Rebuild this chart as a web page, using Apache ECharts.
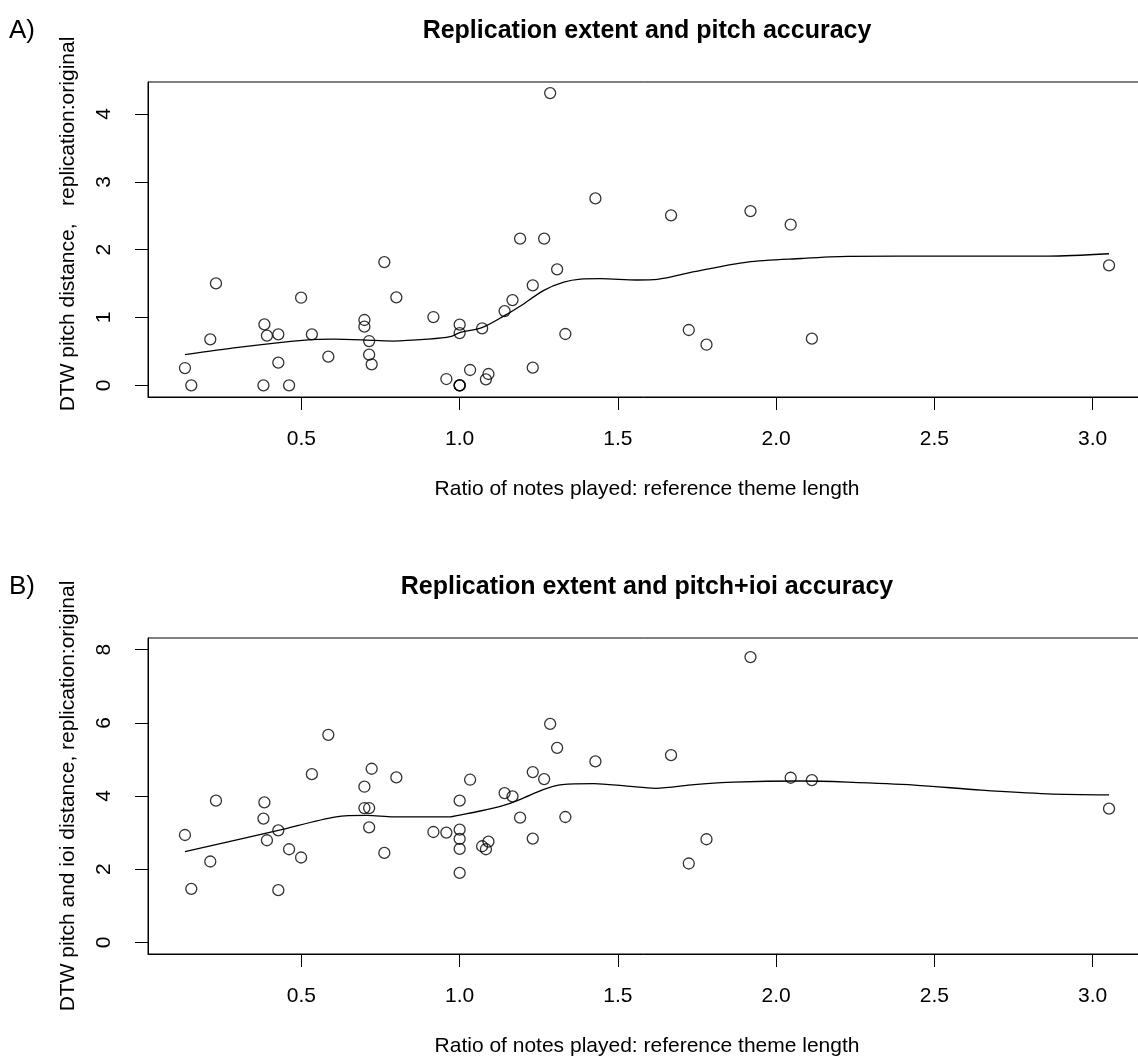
<!DOCTYPE html>
<html>
<head>
<meta charset="utf-8">
<script src="https://cdn.jsdelivr.net/npm/echarts@6/dist/echarts.min.js"></script>
<style>
  html, body { margin: 0; padding: 0; background: #fff; }
  #chart { width: 1138px; height: 1059px; }
</style>
</head>
<body>
<div id="chart"></div>
<script>
// ratio of notes played : reference theme length (shared by both panels)
const ratio = [0.132, 0.152, 0.212, 0.230, 0.380, 0.383, 0.391, 0.427, 0.427, 0.461,
  0.499, 0.533, 0.585, 0.699, 0.699, 0.714, 0.714, 0.722, 0.762, 0.800,
  0.917, 0.958, 1.0, 1.0, 1.0, 1.0, 1.0, 1.033, 1.071, 1.083,
  1.091, 1.142, 1.167, 1.191, 1.231, 1.231, 1.267, 1.286, 1.308, 1.334,
  1.429, 1.668, 1.724, 1.780, 1.919, 2.046, 2.113, 3.052];

// A) DTW pitch distance
const pitchDist = [0.255, 0.0, 0.678, 1.503, 0.0, 0.899, 0.732, 0.752, 0.334, 0.0,
  1.292, 0.752, 0.423, 0.963, 0.865, 0.653, 0.452, 0.309, 1.817, 1.297,
  1.007, 0.093, 0.894, 0.771, 0.0, 0.0, 0.0, 0.226, 0.840, 0.088,
  0.167, 1.095, 1.257, 2.162, 1.474, 0.261, 2.162, 4.308, 1.710, 0.757,
  2.756, 2.506, 0.816, 0.599, 2.569, 2.368, 0.688, 1.769];

// B) DTW pitch + ioi distance
const pitchIoiDist = [2.934, 1.462, 2.209, 3.872, 3.382, 3.826, 2.790, 3.062, 1.426, 2.544,
  2.318, 4.598, 5.672, 4.254, 3.671, 3.671, 3.144, 4.745, 2.444, 4.508,
  3.016, 3.000, 3.872, 3.081, 2.826, 2.553, 1.898, 4.445, 2.626, 2.544,
  2.754, 4.080, 3.990, 3.408, 4.653, 2.835, 4.463, 5.971, 5.317, 3.426,
  4.945, 5.117, 2.154, 2.817, 7.799, 4.499, 4.435, 3.654];

// loess smoothers
const smoothAx = [0.132, 0.30, 0.512, 0.60, 0.728, 0.79, 0.90, 0.97, 1.0, 1.07, 1.139, 1.192,
  1.266, 1.329, 1.382, 1.445, 1.56, 1.625, 1.741, 1.909, 2.08, 2.226, 2.54, 2.86, 3.052];
const smoothAy = [0.452, 0.56, 0.665, 0.68, 0.663, 0.653, 0.68, 0.717, 0.776, 0.85, 1.02, 1.17,
  1.40, 1.52, 1.565, 1.572, 1.553, 1.562, 1.675, 1.817, 1.87, 1.90, 1.906, 1.906, 1.94];

const smoothBx = [0.132, 0.427, 0.61, 0.707, 0.791, 0.97, 1.0, 1.065, 1.139, 1.192, 1.266, 1.324,
  1.424, 1.529, 1.619, 1.741, 1.867, 2.078, 2.226, 2.437, 2.648, 2.859, 3.052];
const smoothBy = [2.48, 3.06, 3.43, 3.47, 3.43, 3.43, 3.48, 3.59, 3.745, 3.91, 4.18, 4.31,
  4.34, 4.27, 4.21, 4.31, 4.38, 4.41, 4.38, 4.30, 4.16, 4.06, 4.03];

const xTicks = [0.5, 1.0, 1.5, 2.0, 2.5, 3.0];
const yTicksA = [0, 1, 2, 3, 4];
const yTicksB = [0, 2, 4, 6, 8];

const FONT = 'Liberation Sans, Arial, Helvetica, sans-serif';
const xLabel = 'Ratio of notes played: reference theme length';
const yLabelA = 'DTW pitch distance,   replication:original';
const yLabelB = 'DTW pitch and ioi distance, replication:original';

function zip(xs, ys) {
  return xs.map((x, i) => [x, ys[i]]);
}

function xAxisOpt(gridIndex) {
  return {
    type: 'value', gridIndex: gridIndex,
    min: 0.0152, max: 3.1688,
    splitLine: { show: false },
    axisLine: { show: true, onZero: false, lineStyle: { color: '#000', width: 1 } },
    axisTick: { show: true, inside: false, length: 13, customValues: xTicks,
      lineStyle: { color: '#000', width: 1 } },
    axisLabel: { customValues: xTicks, margin: 32, color: '#000', fontSize: 21, fontFamily: FONT,
      formatter: v => v.toFixed(1) },
    name: xLabel, nameLocation: 'middle', nameGap: 82,
    nameTextStyle: { color: '#000', fontSize: 21, fontFamily: FONT }
  };
}

function yAxisOpt(gridIndex, min, max, ticks, name) {
  return {
    type: 'value', gridIndex: gridIndex,
    min: min, max: max,
    splitLine: { show: false },
    axisLine: { show: true, onZero: false, lineStyle: { color: '#000', width: 1 } },
    axisTick: { show: true, inside: false, length: 13, customValues: ticks,
      lineStyle: { color: '#000', width: 1 } },
    axisLabel: { customValues: ticks, rotate: 90, margin: 33, color: '#000', fontSize: 21, fontFamily: FONT },
    name: name, nameLocation: 'middle', nameRotate: 90, nameGap: 69,
    nameTextStyle: { color: '#000', fontSize: 21, fontFamily: FONT }
  };
}

const scatterStyle = {
  type: 'scatter', symbol: 'circle', symbolSize: 11,
  itemStyle: { color: 'rgba(0,0,0,0)', borderColor: '#000', borderWidth: 1.3 },
  emphasis: { disabled: true }, z: 3
};
const lineStyle = {
  type: 'line', showSymbol: false, smooth: 0.3,
  lineStyle: { color: '#000', width: 1.3 }, z: 2
};

const chart = echarts.init(document.getElementById('chart'), null, { renderer: 'canvas' });
chart.setOption({
  backgroundColor: '#fff',
  animation: false,
  grid: [
    { left: 148, top: 82, width: 998, height: 315, outerBoundsMode: 'none', containLabel: false,
      show: true, borderColor: '#000', borderWidth: 1 },
    { left: 148, top: 638, width: 998, height: 316, outerBoundsMode: 'none', containLabel: false,
      show: true, borderColor: '#000', borderWidth: 1 }
  ],
  xAxis: [xAxisOpt(0), xAxisOpt(1)],
  yAxis: [
    yAxisOpt(0, -0.172, 4.472, yTicksA, ''),
    yAxisOpt(1, -0.32, 8.32, yTicksB, yLabelB)
  ],
  graphic: [
    { type: 'text', x: 647, y: 31, style: { text: 'Replication extent and pitch accuracy',
      font: 'bold 25px ' + FONT, fill: '#000', textAlign: 'center', textVerticalAlign: 'middle' } },
    { type: 'text', x: 647, y: 587, style: { text: 'Replication extent and pitch+ioi accuracy',
      font: 'bold 25px ' + FONT, fill: '#000', textAlign: 'center', textVerticalAlign: 'middle' } },
    { type: 'text', x: 9, y: 31, style: { text: 'A)', font: '26px ' + FONT, fill: '#000',
      textAlign: 'left', textVerticalAlign: 'middle' } },
    { type: 'text', x: 9, y: 587, style: { text: 'B)', font: '26px ' + FONT, fill: '#000',
      textAlign: 'left', textVerticalAlign: 'middle' } },
    // y label of panel A (sits a little higher than the plot centre in the original)
    { type: 'text', x: 68, y: 224, rotation: Math.PI / 2, style: { text: yLabelA,
      font: '21px ' + FONT, fill: '#000', textAlign: 'center', textVerticalAlign: 'middle' } }
  ],
  series: [
    Object.assign({}, scatterStyle, { xAxisIndex: 0, yAxisIndex: 0, data: zip(ratio, pitchDist) }),
    Object.assign({}, lineStyle, { xAxisIndex: 0, yAxisIndex: 0, data: zip(smoothAx, smoothAy) }),
    Object.assign({}, scatterStyle, { xAxisIndex: 1, yAxisIndex: 1, data: zip(ratio, pitchIoiDist) }),
    Object.assign({}, lineStyle, { xAxisIndex: 1, yAxisIndex: 1, data: zip(smoothBx, smoothBy) })
  ]
});
</script>
</body>
</html>
